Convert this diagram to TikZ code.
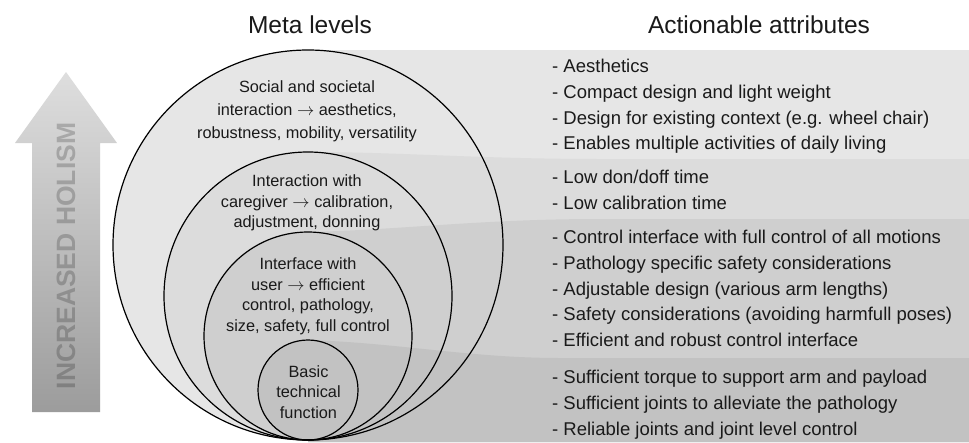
\documentclass[tikz,border=0pt]{standalone}
\usepackage{fontspec}
\setmainfont{Liberation Sans}
\definecolor{bandA}{HTML}{E6E6E6}
\definecolor{bandB}{HTML}{DCDCDC}
\definecolor{bandC}{HTML}{CFCFCF}
\definecolor{bandD}{HTML}{C2C2C2}
\definecolor{arrowtop}{HTML}{DEDEDE}
\definecolor{arrowbot}{HTML}{9C9C9C}
\definecolor{txt}{HTML}{1A1A1A}
\newcommand{\rarr}{$\rightarrow$}
\begin{document}
\begin{tikzpicture}[x=1pt,y=-1pt,
  ring/.style={draw=black, line width=1.2pt},
  title/.style={font=\fontsize{24.5}{28}\selectfont, text=txt, inner sep=0pt, anchor=base},
  item/.style={font=\fontsize{18.5}{22}\selectfont, text=txt, inner sep=0pt, anchor=base west},
  lvl/.style={font=\fontsize{16.3}{20}\selectfont, text=txt, inner sep=0pt, anchor=base},
]
\useasboundingbox (0,0) rectangle (969,442);
\fill[white] (0,0) rectangle (969,442);

% band and ring fills
\fill[bandA] (308,50) -- (969,50) -- (969,442) -- (308,442) -- cycle;
\fill[bandA] (308,245) circle[radius=195pt];
\fill[bandB] (308,152) .. controls (400,152) and (480,159) .. (600,159) -- (969,159) -- (969,442) -- (308,442) -- cycle;
\fill[bandB] (308,296) circle[radius=144pt];
\fill[bandC] (308,232) .. controls (400,230) and (480,219) .. (600,219) -- (969,219) -- (969,442) -- (308,442) -- cycle;
\fill[bandC] (308,336) circle[radius=104pt];
\fill[bandD] (308,340) .. controls (400,343) and (470,358) .. (560,358) -- (969,358) -- (969,442) -- (308,442) -- cycle;
\fill[bandD] (308,390) circle[radius=50pt];
% ring outlines
\draw[ring] (308,245) circle[radius=195pt];
\draw[ring] (308,296) circle[radius=144pt];
\draw[ring] (308,336) circle[radius=104pt];
\draw[ring] (308,390) circle[radius=50pt];

% arrow
\shade[top color=arrowtop, bottom color=arrowbot] (66,72) -- (117,143) -- (100,143) -- (100,412) -- (32,412) -- (32,143) -- (15,143) -- cycle;
\node[rotate=90, inner sep=0pt, font=\bfseries\fontsize{26.5}{30}\selectfont, text=black, text opacity=0.2] (holism) at (66,256) {INCREASED HOLISM};

% titles
\node[title] (tmeta) at (310,33) {Meta levels};
\node[title] (tact) at (759,33) {Actionable attributes};

% level texts
\node[lvl] (l1a) at (307,92.7) {Social and societal};
\node[lvl] (l1b) at (307,115.5) {interaction \rarr{} aesthetics,};
\node[lvl] (l1c) at (307,138.3) {robustness, mobility, versatility};
\node[lvl] (l2a) at (307,186) {Interaction with};
\node[lvl] (l2b) at (307,207) {caregiver \rarr{} calibration,};
\node[lvl] (l2c) at (307,227.7) {adjustment, donning};
\node[lvl] (l3a) at (308,269) {Interface with};
\node[lvl] (l3b) at (308,290) {user \rarr{} efficient};
\node[lvl] (l3c) at (308,310.5) {control, pathology,};
\node[lvl] (l3d) at (308,331) {size, safety, full control};
\node[lvl] (l4a) at (308.5,377.3) {Basic};
\node[lvl] (l4b) at (308.5,397.8) {technical};
\node[lvl] (l4c) at (308.5,418.3) {function};

% attributes
\node[item] (a1) at (552,72.7) {- Aesthetics};
\node[item] (a2) at (552,98.3) {- Compact design and light weight};
\node[item] (a3) at (552,124) {- Design for existing context (e.g. wheel chair)};
\node[item] (a4) at (552,149.5) {- Enables multiple activities of daily living};
\node[item] (b1) at (552,183.3) {- Low don/doff time};
\node[item] (b2) at (552,209.3) {- Low calibration time};
\node[item] (c1) at (552,243.3) {- Control interface with full control of all motions};
\node[item] (c2) at (552,269.3) {- Pathology specific safety considerations};
\node[item] (c3) at (552,295) {- Adjustable design (various arm lengths)};
\node[item] (c4) at (552,320.7) {- Safety considerations (avoiding harmfull poses)};
\node[item] (c5) at (552,346.3) {- Efficient and robust control interface};
\node[item] (d1) at (552,383.3) {- Sufficient torque to support arm and payload};
\node[item] (d2) at (552,409.3) {- Sufficient joints to alleviate the pathology};
\node[item] (d3) at (552,435) {- Reliable joints and joint level control};
\end{tikzpicture}
\end{document}
